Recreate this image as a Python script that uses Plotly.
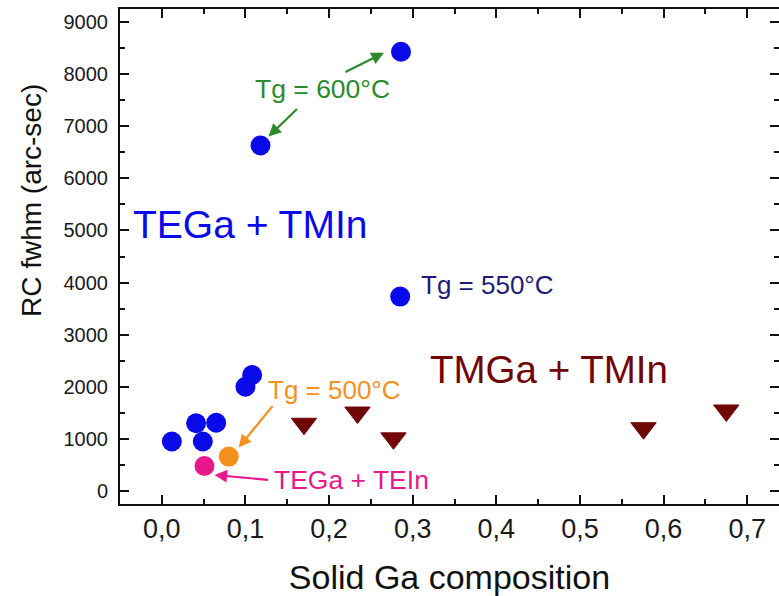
import plotly.graph_objects as go

# TEGa + TMIn series (blue circles)
tega_tmin_x = [0.286, 0.118, 0.285, 0.108, 0.100, 0.041, 0.065, 0.012, 0.049]
tega_tmin_y = [8430, 6630, 3730, 2225, 2000, 1300, 1310, 950, 950]

# TMGa + TMIn series (dark red triangles)
tmga_tmin_x = [0.170, 0.234, 0.277, 0.576, 0.675]
tmga_tmin_y = [1290, 1505, 1010, 1205, 1545]

# Tg = 500 °C sample (orange) and TEGa + TEIn sample (pink)
tg500_x = [0.080]
tg500_y = [660]
tega_tein_x = [0.051]
tega_tein_y = [480]

x_ticks = [0.0, 0.1, 0.2, 0.3, 0.4, 0.5, 0.6, 0.7]
y_ticks = [0, 1000, 2000, 3000, 4000, 5000, 6000, 7000, 8000, 9000]

BLUE = "#0a0ae8"
MAROON = "#700606"
ORANGE = "#f58f1e"
PINK = "#e8188a"
GREEN = "#2b8a2b"
NAVY = "#1c1c78"
FONT = "Liberation Sans, Arial, sans-serif"

fig = go.Figure()
fig.add_trace(go.Scatter(x=tega_tmin_x, y=tega_tmin_y, mode="markers",
                         marker=dict(symbol="circle", size=20, color=BLUE, line=dict(width=0))))
fig.add_trace(go.Scatter(x=tmga_tmin_x, y=tmga_tmin_y, mode="markers",
                         marker=dict(symbol="triangle-down", size=22, color=MAROON,
                                     line=dict(width=1, color=MAROON))))
fig.add_trace(go.Scatter(x=tg500_x, y=tg500_y, mode="markers",
                         marker=dict(symbol="circle", size=20, color=ORANGE, line=dict(width=0))))
fig.add_trace(go.Scatter(x=tega_tein_x, y=tega_tein_y, mode="markers",
                         marker=dict(symbol="circle", size=20, color=PINK, line=dict(width=0))))


def arrow(x, y, head, tail, color):
    """Arrow whose head sits at a pixel offset from a data point."""
    fig.add_annotation(x=x, y=y, xref="x", yref="y", text="", showarrow=True,
                       xshift=head[0], yshift=-head[1],
                       ax=tail[0], ay=tail[1], axref="pixel", ayref="pixel",
                       arrowhead=2, arrowsize=1.15, arrowwidth=2.2,
                       arrowcolor=color, standoff=0, startstandoff=0)


def label(x, y, text, color, size, anchor="left"):
    fig.add_annotation(x=x, y=y, xref="x", yref="y", text=text, showarrow=False,
                       xanchor=anchor, yanchor="middle",
                       font=dict(family=FONT, size=size, color=color))


# Tg = 600 °C arrows
arrow(tega_tmin_x[0], tega_tmin_y[0], (-17, 1), (-40, 20), GREEN)
arrow(tega_tmin_x[1], tega_tmin_y[1], (8, -9), (30, -29), GREEN)
# Tg = 500 °C arrow
arrow(tg500_x[0], tg500_y[0], (10, -9), (35, -43), ORANGE)
# TEGa + TEIn arrow
arrow(tega_tein_x[0], tega_tein_y[0], (10, 9), (55, 5), PINK)

label(0.192, 7710, "Tg = 600°C", GREEN, 26.5, anchor="center")
label(0.307, 3950, "Tg = 550°C", NAVY, 26)
label(0.124, 1935, "Tg = 500°C", ORANGE, 26)
label(0.132, 210, "TEGa + TEIn", PINK, 26.5)
label(-0.037, 5120, "TEGa + TMIn", BLUE, 39)
label(0.318, 2330, "TMGa + TMIn", MAROON, 38.5)

# Vertical axis title
fig.add_annotation(x=-0.135, y=0.612, xref="paper", yref="paper",
                   text="RC fwhm (arc-sec)", textangle=-90, showarrow=False,
                   xanchor="center", yanchor="middle",
                   font=dict(family=FONT, size=28, color="#111"))

axis_common = dict(showline=True, linecolor="#111", linewidth=2, mirror="ticks",
                   ticks="inside", tickcolor="#111", tickwidth=2, ticklen=9,
                   showgrid=False, zeroline=False, automargin=False)

fig.update_xaxes(range=[-0.05, 0.738], tickvals=x_ticks, tickformat=".1f",
                 tickfont=dict(family=FONT, size=27, color="#1a1a1a"),
                 ticklabelstandoff=0,
                 minor=dict(ticks="inside", ticklen=5, tickwidth=1.5, tickcolor="#111", dtick=0.05, tick0=0, showgrid=False),
                 title=dict(text="Solid Ga composition", standoff=27,
                            font=dict(family=FONT, size=34, color="#111")),
                 **axis_common)
fig.update_yaxes(range=[-250, 9250], tickvals=y_ticks, tickformat="d",
                 tickfont=dict(family=FONT, size=20, color="#1a1a1a"),
                 ticklabelstandoff=6,
                 minor=dict(ticks="inside", ticklen=5, tickwidth=1.5, tickcolor="#111", dtick=500, tick0=0, showgrid=False),
                 **axis_common)

fig.update_layout(width=779, height=596, showlegend=False,
                  separators=",.",
                  margin=dict(l=120, r=0, t=9, b=92),
                  paper_bgcolor="white", plot_bgcolor="white")

fig.write_html("out.html")
